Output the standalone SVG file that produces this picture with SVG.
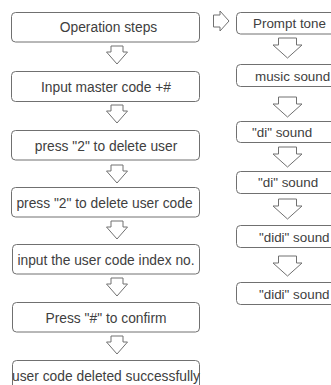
<svg xmlns="http://www.w3.org/2000/svg" xmlns:xlink="http://www.w3.org/1999/xlink" width="331" height="385" viewBox="0 0 331 385">
<style>
.box{fill:#fff;stroke:#707070;stroke-width:1}
.t{font-family:"Liberation Sans",Arial,sans-serif;font-size:13.8px;fill:#404040;text-anchor:middle}
.tl{font-family:"Liberation Sans",Arial,sans-serif;font-size:13.4px;fill:#404040}
.arr{fill:#fff;stroke:#707070;stroke-width:1;stroke-linejoin:miter}
</style>
<defs>
<path id="dl" d="M-6,0 H6 V6 H10.5 L0,18 L-10.5,6 H-6 Z"/>
<path id="dr" d="M-9,0 H9 V7 H14.5 L0,20 L-14.5,7 H-9 Z"/>
</defs>
<rect width="331" height="385" fill="#fff"/>
<g id="connectors">
<use xlink:href="#dl" href="#dl" class="arr" transform="translate(117,46)"/>
<use xlink:href="#dl" href="#dl" class="arr" transform="translate(117,105)"/>
<use xlink:href="#dl" href="#dl" class="arr" transform="translate(117,165)"/>
<use xlink:href="#dl" href="#dl" class="arr" transform="translate(117,221)"/>
<use xlink:href="#dl" href="#dl" class="arr" transform="translate(117,278)"/>
<use xlink:href="#dl" href="#dl" class="arr" transform="translate(117,336)"/>
<path class="arr" d="M213.5,15 H220 V11 L229,21 L220,31 V27 H213.5 Z"/>
<use xlink:href="#dr" href="#dr" class="arr" transform="translate(287.5,38)"/>
<use xlink:href="#dr" href="#dr" class="arr" transform="translate(287.5,97)"/>
<use xlink:href="#dr" href="#dr" class="arr" transform="translate(287.5,147)"/>
<use xlink:href="#dr" href="#dr" class="arr" transform="translate(287.5,199)"/>
<use xlink:href="#dr" href="#dr" class="arr" transform="translate(287.5,256)"/>
</g>
<g id="n1"><rect class="box" x="11.5" y="12.5" width="188" height="29.5" rx="4"/><text class="t" x="108.5" y="32">Operation steps</text></g>
<g id="n2"><rect class="box" x="11.5" y="71.5" width="188" height="30" rx="4"/><text class="t" x="106" y="91.5">Input master code +#</text></g>
<g id="n3"><rect class="box" x="11.5" y="130.5" width="188" height="29.5" rx="4"/><text class="t" x="106" y="150.5">press "2" to delete user</text></g>
<g id="n4"><rect class="box" x="11.5" y="187.5" width="188" height="29.5" rx="4"/><text class="t" x="104.5" y="207.5">press "2" to delete user code</text></g>
<g id="n5"><rect class="box" x="12.5" y="244.5" width="187" height="29.5" rx="4"/><text class="t" x="106" y="264.5">input the user code index no.</text></g>
<g id="n6"><rect class="box" x="12.5" y="302.5" width="187" height="29.5" rx="4"/><text class="t" x="106" y="322.5">Press "#" to confirm</text></g>
<g id="n7"><rect class="box" x="12.5" y="360.5" width="187" height="30" rx="4"/><text class="t" x="106" y="380.5">user code deleted successfully</text></g>
<g id="r1"><rect class="box" x="236.5" y="12.5" width="110" height="21.5" rx="4"/><text class="tl" x="253" y="28">Prompt tone</text></g>
<g id="r2"><rect class="box" x="236.5" y="64.5" width="110" height="22" rx="4"/><text class="tl" x="255" y="80.5">music sound</text></g>
<g id="r3"><rect class="box" x="236.5" y="121.5" width="110" height="21" rx="4"/><text class="tl" x="252" y="137">"di" sound</text></g>
<g id="r4"><rect class="box" x="236.5" y="171.5" width="110" height="22" rx="4"/><text class="tl" x="258" y="187">"di" sound</text></g>
<g id="r5"><rect class="box" x="236.5" y="225.5" width="110" height="22" rx="4"/><text class="tl" x="259" y="241.5">"didi" sound</text></g>
<g id="r6"><rect class="box" x="236.5" y="282.5" width="110" height="22" rx="4"/><text class="tl" x="259" y="298.5">"didi" sound</text></g>
</svg>
